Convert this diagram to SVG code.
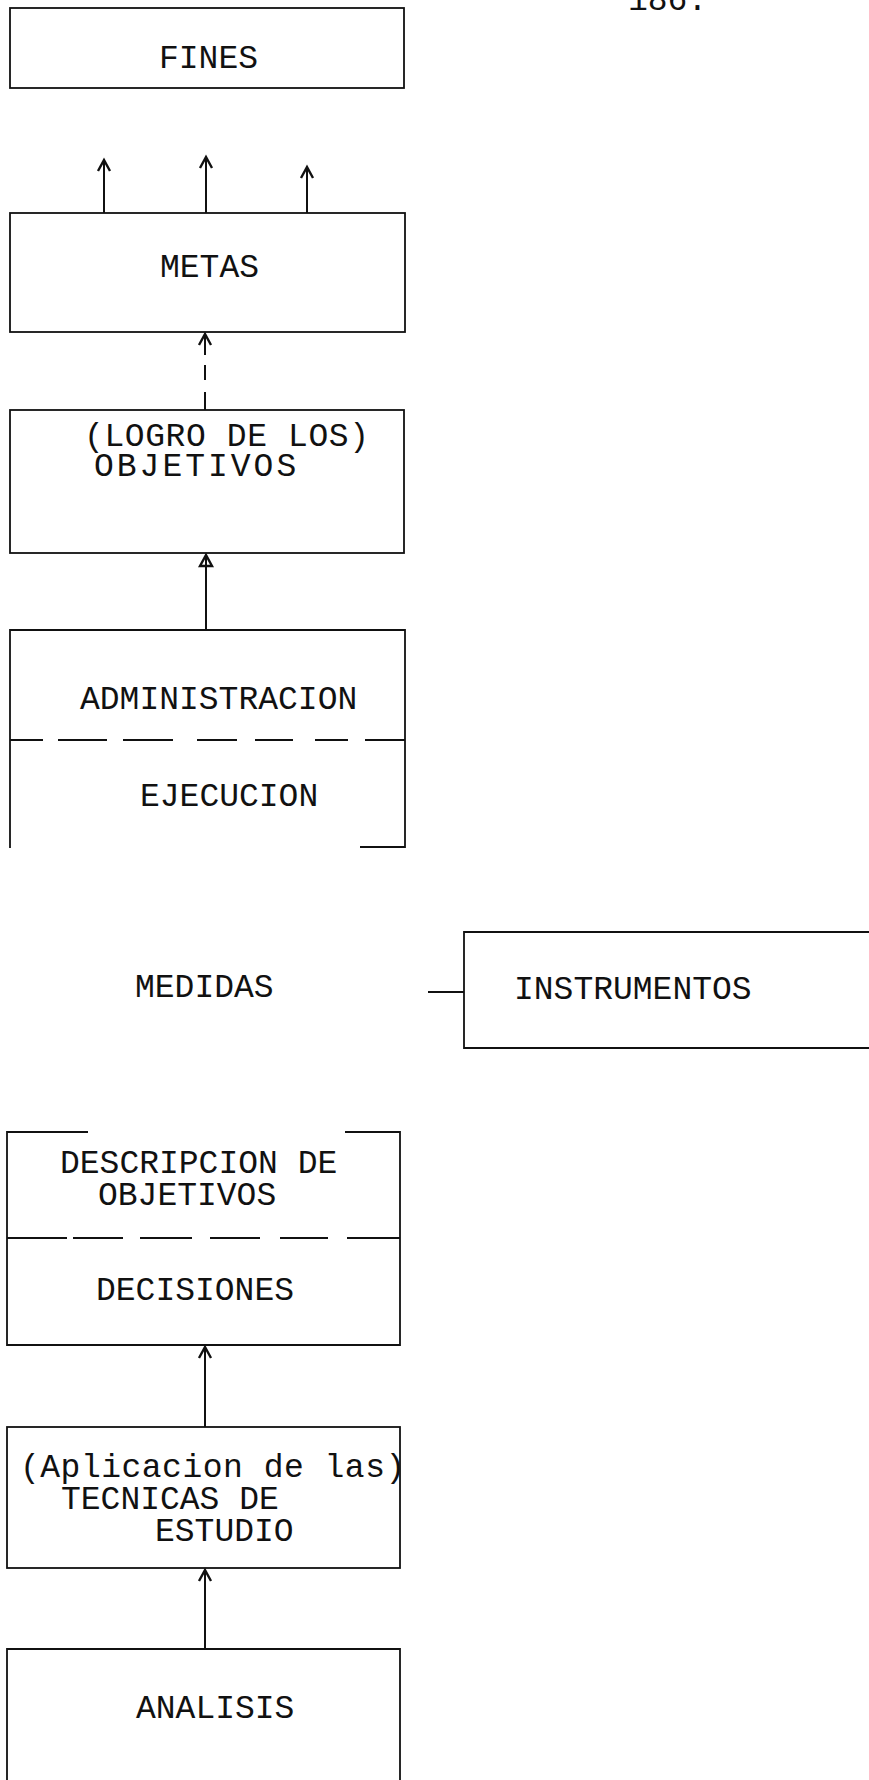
<svg xmlns="http://www.w3.org/2000/svg" width="869" height="1780" viewBox="0 0 869 1780">
<style>
.t{font-family:"Liberation Mono","Courier New",monospace;font-size:33px;fill:#111}
.b{fill:none;stroke:#111;stroke-width:1.8}
.c{fill:none;stroke:#111;stroke-width:2}
.h{fill:none;stroke:#111;stroke-width:2.4;stroke-linejoin:miter}
</style>
<rect width="869" height="1780" fill="#fff"/>
<text class="t" x="628" y="10">186.</text>
<g id="fines">
<rect class="b" x="10" y="8" width="394" height="80"/>
<text class="t" x="159" y="68">FINES</text>
</g>
<g id="metas">
<rect class="b" x="10" y="213" width="395" height="119"/>
<text class="t" x="160" y="277">METAS</text>
</g>
<g id="objetivos">
<rect class="b" x="10" y="410" width="394" height="143"/>
<text class="t" x="84" y="446" letter-spacing="0.6">(LOGRO DE LOS)</text>
<text class="t" x="94" y="476" letter-spacing="3">OBJETIVOS</text>
</g>
<g id="administracion">
<path class="b" d="M10,848 L10,630 L405,630 L405,848 M360,847 L405,847"/>
<path class="b" d="M10,740 H43 M58,740 H107 M123,740 H173 M197,740 H237 M255,740 H293 M315,740 H348 M365,740 H405"/>
<text class="t" x="80" y="709">ADMINISTRACION</text>
<text class="t" x="140" y="806">EJECUCION</text>
</g>
<g id="medidas">
<text class="t" x="135" y="997">MEDIDAS</text>
</g>
<g id="instrumentos">
<path class="b" d="M869,932 L464,932 L464,1048 L869,1048"/>
<text class="t" x="514" y="999">INSTRUMENTOS</text>
</g>
<g id="descripcion">
<path class="b" d="M88,1132 L7,1132 L7,1345 L400,1345 L400,1132 L345,1132"/>
<path class="b" d="M7,1238 H67 M73,1238 H123 M140,1238 H192 M210,1238 H260 M280,1238 H328 M347,1238 H400"/>
<text class="t" x="60" y="1173">DESCRIPCION DE</text>
<text class="t" x="98" y="1205">OBJETIVOS</text>
<text class="t" x="96" y="1300">DECISIONES</text>
</g>
<g id="tecnicas">
<rect class="b" x="7" y="1427" width="393" height="141"/>
<text class="t" x="20" y="1477" letter-spacing="0.5">(Aplicacion de las)</text>
<text class="t" x="61" y="1509">TECNICAS DE</text>
<text class="t" x="155" y="1541">ESTUDIO</text>
</g>
<g id="analisis">
<path class="b" d="M7,1780 L7,1649 L400,1649 L400,1780"/>
<text class="t" x="136" y="1718">ANALISIS</text>
</g>
<g id="connectors">
<path class="c" d="M104,213 V160 M206,213 V157 M307,213 V167"/>
<path class="h" d="M98,171 L104,160 L110,171 M200,168 L206,157 L212,168 M301,178 L307,167 L313,178"/>
<path class="c" d="M205,334 V355 M205,365 V380 M205,392 V410"/>
<path class="h" d="M199,345 L205,334 L211,345"/>
<path class="c" d="M206,630 V555"/>
<path class="h" d="M200,566 L206,555 L212,566 Z" fill="#111"/>
<path class="c" d="M428,992 H464"/>
<path class="c" d="M205,1427 V1347"/>
<path class="h" d="M199,1358 L205,1347 L211,1358"/>
<path class="c" d="M205,1649 V1570"/>
<path class="h" d="M199,1581 L205,1570 L211,1581"/>
</g>
</svg>
